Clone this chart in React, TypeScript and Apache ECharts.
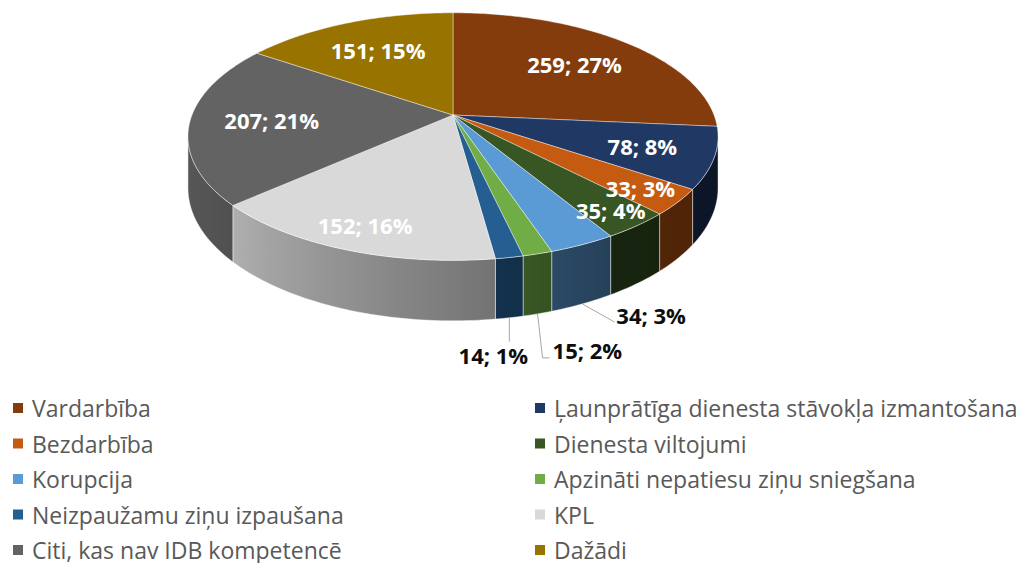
import React, { useEffect, useRef } from "react";
import * as echarts from "echarts";

// ---- data ----
const CATEGORIES = [
  "Vardarbība",
  "Ļaunprātīga dienesta stāvokļa izmantošana",
  "Bezdarbība",
  "Dienesta viltojumi",
  "Korupcija",
  "Apzināti nepatiesu ziņu sniegšana",
  "Neizpaužamu ziņu izpaušana",
  "KPL",
  "Citi, kas nav IDB kompetencē",
  "Dažādi",
];
const VALUES = [259, 78, 33, 35, 34, 15, 14, 152, 207, 151];
const COLORS = [
  "#843C0C",
  "#203864",
  "#C55A11",
  "#375623",
  "#5B9BD5",
  "#70AD47",
  "#255E91",
  "#D9D9D9",
  "#636363",
  "#997300",
];
// which labels sit outside the pie (with a leader line)
const LABEL_OUTSIDE = [false, false, false, false, true, true, true, false, false, false];

// ---- layout / style ----
const CX = 453;
const CY = 115;
const R = 261;
const RY = 120;
const K = 0.174; // perspective strength
const H = 50; // pie thickness
const FONT = '"Open Sans", "Noto Sans", sans-serif';
const LABEL_FONT = `bold 22px ${FONT}`;
// leader offsets for outside labels: elbow (from wall-bottom anchor), end (from elbow), text placement
const LEADERS: Record<number, { elbow: number[]; end: number[]; text: number[]; align: string; vAlign: string }> = {
  4: { elbow: [32, 18], end: [0, 0], text: [2, -7], align: "left", vAlign: "middle" },
  5: { elbow: [5, 44], end: [7, 0], text: [3, -8], align: "left", vAlign: "middle" },
  6: { elbow: [0, 24], end: [0, 0], text: [-16, 2], align: "center", vAlign: "top" },
};

const TOTAL = VALUES.reduce((a, b) => a + b, 0);
const CUM: number[] = [0];
VALUES.forEach((v, i) => CUM.push(CUM[i] + v));

function percents(vals: number[]) {
  const raw = vals.map((v) => (v / TOTAL) * 100);
  const fl = raw.map((r) => Math.floor(r));
  const rest = 100 - fl.reduce((a, b) => a + b, 0);
  const order = raw.map((r, i) => [r - Math.floor(r), i]).sort((a, b) => b[0] - a[0]);
  for (let j = 0; j < rest; j++) fl[order[j][1]] += 1;
  return fl;
}
const PCTS = percents(VALUES);

function proj(phiDeg: number, r: number, z: number) {
  const p = (phiDeg * Math.PI) / 180;
  const X = r * Math.sin(p);
  const Y = r * Math.cos(p);
  const w = 1 + K * Y;
  return [CX + (R * X) / w, CY + (-RY * Y + H * z) / w];
}

function hexToRgb(h: string) {
  const n = parseInt(h.slice(1), 16);
  return [(n >> 16) & 255, (n >> 8) & 255, n & 255];
}
function shade(h: string, f: number) {
  const [r, g, b] = hexToRgb(h);
  return `rgb(${Math.round(r * f)},${Math.round(g * f)},${Math.round(b * f)})`;
}
const SHADE_PTS = [
  [90, 0.38],
  [150, 0.42],
  [235, 0.84],
  [270, 0.9],
];
function shadeFactor(phi: number) {
  if (phi <= SHADE_PTS[0][0]) return SHADE_PTS[0][1];
  for (let i = 1; i < SHADE_PTS.length; i++) {
    if (phi <= SHADE_PTS[i][0]) {
      const [a0, f0] = SHADE_PTS[i - 1];
      const [a1, f1] = SHADE_PTS[i];
      return f0 + ((f1 - f0) * (phi - a0)) / (a1 - a0);
    }
  }
  return SHADE_PTS[SHADE_PTS.length - 1][1];
}

const VIS0 = (Math.acos(-K) * 180) / Math.PI;
const VIS1 = 360 - VIS0;

function renderItem(params: any, api: any) {
  const i = params.dataIndex;
  const value = api.value(0);
  const a0 = (CUM[i] / TOTAL) * 360;
  const a1 = ((CUM[i] + value) / TOTAL) * 360;
  const color = COLORS[i];
  const children: any[] = [];

  // side wall (front visible part)
  const lo = Math.max(a0, VIS0);
  const hi = Math.min(a1, VIS1);
  if (hi > lo) {
    const n = Math.max(2, Math.ceil(hi - lo) + 1);
    const top: number[][] = [];
    const bot: number[][] = [];
    const angs: number[] = [];
    for (let j = 0; j < n; j++) {
      const a = lo + ((hi - lo) * j) / (n - 1);
      angs.push(a);
      top.push(proj(a, 1, 0));
      bot.push(proj(a, 1, 1));
    }
    const xs = top.map((p) => p[0]).concat(bot.map((p) => p[0]));
    const xmin = Math.min(...xs);
    const xmax = Math.max(...xs);
    const stops = angs
      .map((a, j) => ({
        offset: xmax > xmin ? Math.min(1, Math.max(0, (top[j][0] - xmin) / (xmax - xmin))) : 0,
        color: shade(color, shadeFactor(a)),
      }))
      .sort((p, q) => p.offset - q.offset);
    children.push({
      type: "polygon",
      z2: 1,
      shape: { points: top.concat(bot.reverse()) },
      style: {
        fill: new echarts.graphic.LinearGradient(0, 0, 1, 0, stops),
        stroke: "rgba(255,255,255,0.55)",
        lineWidth: 0.8,
      },
    });
  }

  // top face
  const pts: number[][] = [proj(0, 0, 0)];
  const n2 = Math.max(2, Math.ceil((a1 - a0) / 0.8) + 1);
  for (let j = 0; j < n2; j++) pts.push(proj(a0 + ((a1 - a0) * j) / (n2 - 1), 1, 0));
  children.push({
    type: "polygon",
    z2: 10,
    shape: { points: pts },
    style: { fill: color, stroke: "rgba(255,255,255,0.6)", lineWidth: 0.7 },
  });

  // label
  const mid = (a0 + a1) / 2;
  const text = `${value}; ${PCTS[i]}%`;
  if (!LABEL_OUTSIDE[i]) {
    const share = value / TOTAL;
    const c = Math.cos((mid * Math.PI) / 180);
    const r = 0.68 + 0.17 * Math.max(0, -c) + (share < 0.05 ? 0.06 : 0);
    const [lx, ly] = proj(mid, r, 0);
    children.push({
      type: "text",
      z2: 30,
      x: lx,
      y: ly,
      style: {
        text,
        fill: "#ffffff",
        font: LABEL_FONT,
        align: "center",
        verticalAlign: "middle",
      },
    });
  } else {
    const L = LEADERS[i];
    const anchor = proj(mid, 1, 1);
    const elbow = [anchor[0] + L.elbow[0], anchor[1] + L.elbow[1]];
    const end = [elbow[0] + L.end[0], elbow[1] + L.end[1]];
    children.push({
      type: "polyline",
      z2: 20,
      shape: { points: [anchor, elbow, end] },
      style: { stroke: "#a6a6a6", lineWidth: 1, fill: "none" },
    });
    children.push({
      type: "text",
      z2: 30,
      x: end[0] + L.text[0],
      y: end[1] + L.text[1],
      style: {
        text,
        fill: "#0d0d0d",
        font: LABEL_FONT,
        align: L.align,
        verticalAlign: L.vAlign,
      },
    });
  }

  return { type: "group", children };
}

const COL1 = CATEGORIES.filter((_, i) => i % 2 === 0);
const COL2 = CATEGORIES.filter((_, i) => i % 2 === 1);

function legendCol(left: number, data: string[]) {
  return {
    orient: "vertical",
    left,
    top: 396,
    height: 200,
    padding: 0,
    data,
    icon: "rect",
    itemWidth: 10,
    itemHeight: 10,
    itemGap: 11.5,
    selectedMode: false,
    textStyle: {
      fontSize: 23,
      fontFamily: FONT,
      color: "#595959",
      lineHeight: 24,
      padding: [0, 0, 0, 4],
    },
  };
}

export default function App() {
  const ref = useRef<HTMLDivElement>(null);
  useEffect(() => {
    if (!ref.current) return;
    const chart = echarts.init(ref.current, null, { renderer: "svg" });
    chart.setOption({
      animation: false,
      backgroundColor: "#ffffff",
      legend: [legendCol(13, COL1), legendCol(535, COL2)],
      series: [
        {
          type: "pie",
          name: "legend",
          center: [-500, -500],
          radius: 1,
          silent: true,
          label: { show: false },
          labelLine: { show: false },
          data: CATEGORIES.map((name, i) => ({
            name,
            value: VALUES[i],
            itemStyle: { color: COLORS[i] },
          })),
        },
        {
          type: "custom",
          coordinateSystem: "none",
          silent: true,
          data: VALUES.map((v) => [v]),
          renderItem,
        },
      ],
    });
    return () => chart.dispose();
  }, []);
  return (
    <div
      ref={ref}
      style={{ position: "fixed", left: 0, top: 0, width: 1021, height: 563, background: "#fff" }}
    />
  );
}
